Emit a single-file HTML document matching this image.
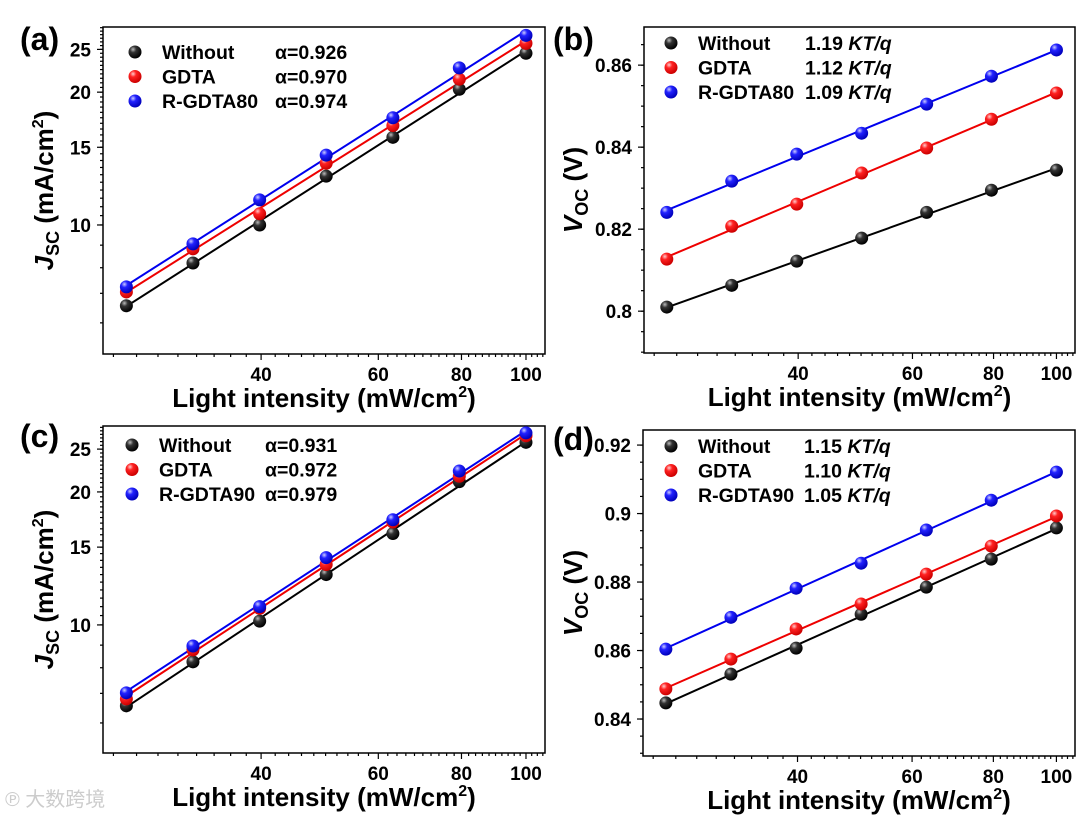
<!DOCTYPE html>
<html><head><meta charset="utf-8">
<style>
body{margin:0;background:#fff;}
svg{display:block;font-family:"Liberation Sans",Arial,sans-serif;font-weight:bold;}
</style></head>
<body>
<svg id="fig" width="1080" height="818" viewBox="0 0 1080 818">
<defs>
<radialGradient id="g-black" cx="0.35" cy="0.3" r="0.7"><stop offset="0" stop-color="#bbb"/><stop offset="0.35" stop-color="#333"/><stop offset="1" stop-color="#000"/></radialGradient>
<radialGradient id="g-red" cx="0.35" cy="0.3" r="0.7"><stop offset="0" stop-color="#fcc"/><stop offset="0.35" stop-color="#f22"/><stop offset="1" stop-color="#c00"/></radialGradient>
<radialGradient id="g-blue" cx="0.35" cy="0.3" r="0.7"><stop offset="0" stop-color="#ccf"/><stop offset="0.35" stop-color="#22f"/><stop offset="1" stop-color="#00b"/></radialGradient>
</defs>
<text x="5" y="806" font-size="20" fill="#ccc" font-weight="normal" font-family="'Liberation Sans','Noto Sans CJK SC',sans-serif">℗ 大数跨境</text>
</svg>
<script>
// shared x data (light intensity, mW/cm2)
const intensity = [25.1, 31.6, 39.8, 50.1, 63.1, 79.4, 100];
const xTickLabels = [40, 60, 80, 100];
// panel (a) Jsc
const jscA_without = [6.56, 8.2, 10.0, 12.9, 15.8, 20.3, 24.5];
const jscA_gdta = [7.05, 8.83, 10.6, 13.8, 16.8, 21.4, 25.8];
const jscA_rgdta = [7.24, 9.06, 11.4, 14.4, 17.5, 22.7, 26.9];
// panel (b) Voc
const vocB_without = [0.8010, 0.8063, 0.8122, 0.8178, 0.8241, 0.8295, 0.8344];
const vocB_gdta = [0.8127, 0.8207, 0.8261, 0.8337, 0.8398, 0.8468, 0.8532];
const vocB_rgdta = [0.8241, 0.8317, 0.8383, 0.8434, 0.8505, 0.8573, 0.8637];
// panel (c) Jsc
const jscC_without = [6.56, 8.25, 10.2, 13.0, 16.1, 21.1, 25.9];
const jscC_gdta = [6.8, 8.78, 10.9, 13.7, 17.1, 21.7, 26.8];
const jscC_rgdta = [7.02, 8.96, 11.0, 14.2, 17.3, 22.3, 27.2];
// panel (d) Voc
const vocD_without = [0.8447, 0.8531, 0.8607, 0.8706, 0.8785, 0.8867, 0.8958];
const vocD_gdta = [0.8488, 0.8575, 0.8663, 0.8736, 0.8823, 0.8905, 0.8993];
const vocD_rgdta = [0.8604, 0.8697, 0.8782, 0.8855, 0.8952, 0.9039, 0.9121];
const jscTickLabels = [10, 15, 20, 25];
const vocBTickLabels = [0.8, 0.82, 0.84, 0.86];
const vocDTickLabels = [0.84, 0.86, 0.88, 0.9, 0.92];
const legendA = ["Without", "GDTA", "R-GDTA80"], legendAVal = ["α=0.926", "α=0.970", "α=0.974"];
const legendB = ["Without", "GDTA", "R-GDTA80"], legendBVal = ["1.19", "1.12", "1.09"];
const legendC = ["Without", "GDTA", "R-GDTA90"], legendCVal = ["α=0.931", "α=0.972", "α=0.979"];
const legendD = ["Without", "GDTA", "R-GDTA90"], legendDVal = ["1.15", "1.10", "1.05"];

const NS = "http://www.w3.org/2000/svg";
const svg = document.getElementById('fig');
function mk(tag, attrs, parent, text) {
  const e = document.createElementNS(NS, tag);
  for (const k in attrs) e.setAttribute(k, attrs[k]);
  if (text !== undefined) e.textContent = text;
  (parent || svg).appendChild(e);
  return e;
}
const colors = ["#000", "#e00", "#00e"];
const grads = ["url(#g-black)", "url(#g-red)", "url(#g-blue)"];
const seriesNames = ["without", "gdta", "rgdta"];

function panel(p) {
  const g = mk('g', {});
  
  
  const xl0 = Math.log10(23.15), xl1 = Math.log10(106.8);
  const X = v => p.L + (Math.log10(v) - xl0) / (xl1 - xl0) * (p.R - p.L);
  const tf = p.logY ? Math.log10 : (v => v);
  const y0 = tf(p.ymin), y1 = tf(p.ymax);
  const Y = v => p.B - (tf(v) - y0) / (y1 - y0) * (p.B - p.T);
  const fr = mk('rect', {x: p.L, y: p.T, width: p.R - p.L, height: p.B - p.T, fill: 'none', stroke: '#000', 'stroke-width': 1.5}, g);
  
  
  for (let v = 24; v <= 106; v += 2) {
    const maj = xTickLabels.includes(v);
    mk('line', {x1: X(v), x2: X(v), y1: p.B, y2: p.B + (maj ? 6 : 3), stroke: '#000', 'stroke-width': 1.2}, g);
  }
  xTickLabels.forEach(v => {
    const t = mk('text', {x: X(v), y: p.B + 27, 'font-size': 19, 'text-anchor': 'middle'}, g, String(v));
    
    
  });
  const xt = mk('text', {x: (p.L + p.R) / 2 + 0, y: p.B + 53, 'font-size': 26, 'text-anchor': 'middle'}, g);
  
  
  mk('tspan', {}, xt, 'Light intensity (mW/cm');
  mk('tspan', {dy: -10, 'font-size': 16}, xt, '2');
  mk('tspan', {dy: 10}, xt, ')');
  p.minor.forEach(v => {
    if (v < p.ymin || v > p.ymax) return;
    mk('line', {x1: p.L, x2: p.L - 3, y1: Y(v), y2: Y(v), stroke: '#000', 'stroke-width': 1.2}, g);
  });
  p.yTicks.forEach(v => {
    mk('line', {x1: p.L, x2: p.L - 6, y1: Y(v), y2: Y(v), stroke: '#000', 'stroke-width': 1.2}, g);
    const t = mk('text', {x: p.L - 12, y: Y(v) + 7, 'font-size': 19, 'text-anchor': 'end'}, g, String(v));
    
    
  });
  const cy = (p.T + p.B) / 2;
  const yt = mk('text', {x: 0, y: 0, 'font-size': 26, 'text-anchor': 'middle', transform: `translate(${p.ytx},${cy}) rotate(-90)`}, g);
  
  
  if (p.logY) {
    mk('tspan', {'font-style': 'italic'}, yt, 'J');
    mk('tspan', {dy: 6, 'font-size': 18}, yt, 'SC');
    mk('tspan', {dy: -6}, yt, ' (mA/cm');
    mk('tspan', {dy: -10, 'font-size': 16}, yt, '2');
    mk('tspan', {dy: 10}, yt, ')');
  } else {
    mk('tspan', {'font-style': 'italic'}, yt, 'V');
    mk('tspan', {dy: 6, 'font-size': 18}, yt, 'OC');
    mk('tspan', {dy: -6}, yt, ' (V)');
  }
  const pl = mk('text', {x: p.lx, y: p.ly, 'font-size': 32}, g, '(' + p.id + ')');
  
  
  p.series.forEach((arr, si) => {
    const xs = intensity.map(Math.log10), ys = arr.map(tf);
    const n = xs.length, mx = xs.reduce((a, b) => a + b) / n, my = ys.reduce((a, b) => a + b) / n;
    let sxy = 0, sxx = 0;
    for (let i = 0; i < n; i++) { sxy += (xs[i] - mx) * (ys[i] - my); sxx += (xs[i] - mx) ** 2; }
    const k = sxy / sxx, b = my - k * mx;
    const fy = lx => { const v = k * lx + b; return p.logY ? Math.pow(10, v) : v; };
    const xa = intensity[0], xb = intensity[n - 1];
    const ln = mk('line', {x1: X(xa), y1: Y(fy(Math.log10(xa))), x2: X(xb), y2: Y(fy(Math.log10(xb))), stroke: colors[si], 'stroke-width': 2}, g);
    
    
  });
  p.series.forEach((arr, si) => {
    arr.forEach((v, i) => {
      const c = mk('circle', {cx: X(intensity[i]), cy: Y(v), r: 6.5, fill: grads[si]}, g);
      
      
    });
  });
  p.leg.forEach((name, i) => {
    const ly = p.legY + i * 24.5;
    const m = mk('circle', {cx: p.legX, cy: ly, r: 6.5, fill: grads[i]}, g);
    
    
    const t = mk('text', {x: p.legX + 27, y: ly + 7, 'font-size': 19.5}, g, name);
    
    
    const tv = mk('text', {x: p.legVX, y: ly + 7, 'font-size': 19.5}, g);
    
    
    if (p.logY) { tv.textContent = p.legV[i]; }
    else { mk('tspan', {}, tv, p.legV[i] + ' '); mk('tspan', {'font-style': 'italic'}, tv, 'KT/q'); }
  });
}
const jscMinor = [6, 7, 8, 9]; for (let v = 10; v <= 28; v += 0.5) jscMinor.push(v);
const vB = []; for (let v = 0.79; v <= 0.8701; v += 0.005) vB.push(+v.toFixed(3));
const vD = []; for (let v = 0.83; v <= 0.9251; v += 0.005) vD.push(+v.toFixed(3));
panel({id: 'a', L: 103, R: 545, T: 27, B: 354, logY: true, ymin: 5.1, ymax: 28.1, yTicks: jscTickLabels, minor: jscMinor,
  series: [jscA_without, jscA_gdta, jscA_rgdta], leg: legendA, legV: legendAVal, legX: 135, legY: 52, legVX: 275, ytx: 53, lx: 20, ly: 50});
panel({id: 'b', L: 644, R: 1075, T: 27, B: 353, logY: false, ymin: 0.7898, ymax: 0.8693, yTicks: vocBTickLabels, minor: vB,
  series: [vocB_without, vocB_gdta, vocB_rgdta], leg: legendB, legV: legendBVal, legX: 671, legY: 43, legVX: 805, ytx: 582, lx: 553, ly: 50});
panel({id: 'c', L: 103, R: 545, T: 426, B: 753, logY: true, ymin: 5.13, ymax: 28.2, yTicks: jscTickLabels, minor: jscMinor,
  series: [jscC_without, jscC_gdta, jscC_rgdta], leg: legendC, legV: legendCVal, legX: 132, legY: 445, legVX: 265, ytx: 53, lx: 20, ly: 447});
panel({id: 'd', L: 643, R: 1075, T: 430, B: 756, logY: false, ymin: 0.8292, ymax: 0.9244, yTicks: vocDTickLabels, minor: vD,
  series: [vocD_without, vocD_gdta, vocD_rgdta], leg: legendD, legV: legendDVal, legX: 671, legY: 446, legVX: 804, ytx: 582, lx: 553, ly: 450});
</script>
</body></html>
